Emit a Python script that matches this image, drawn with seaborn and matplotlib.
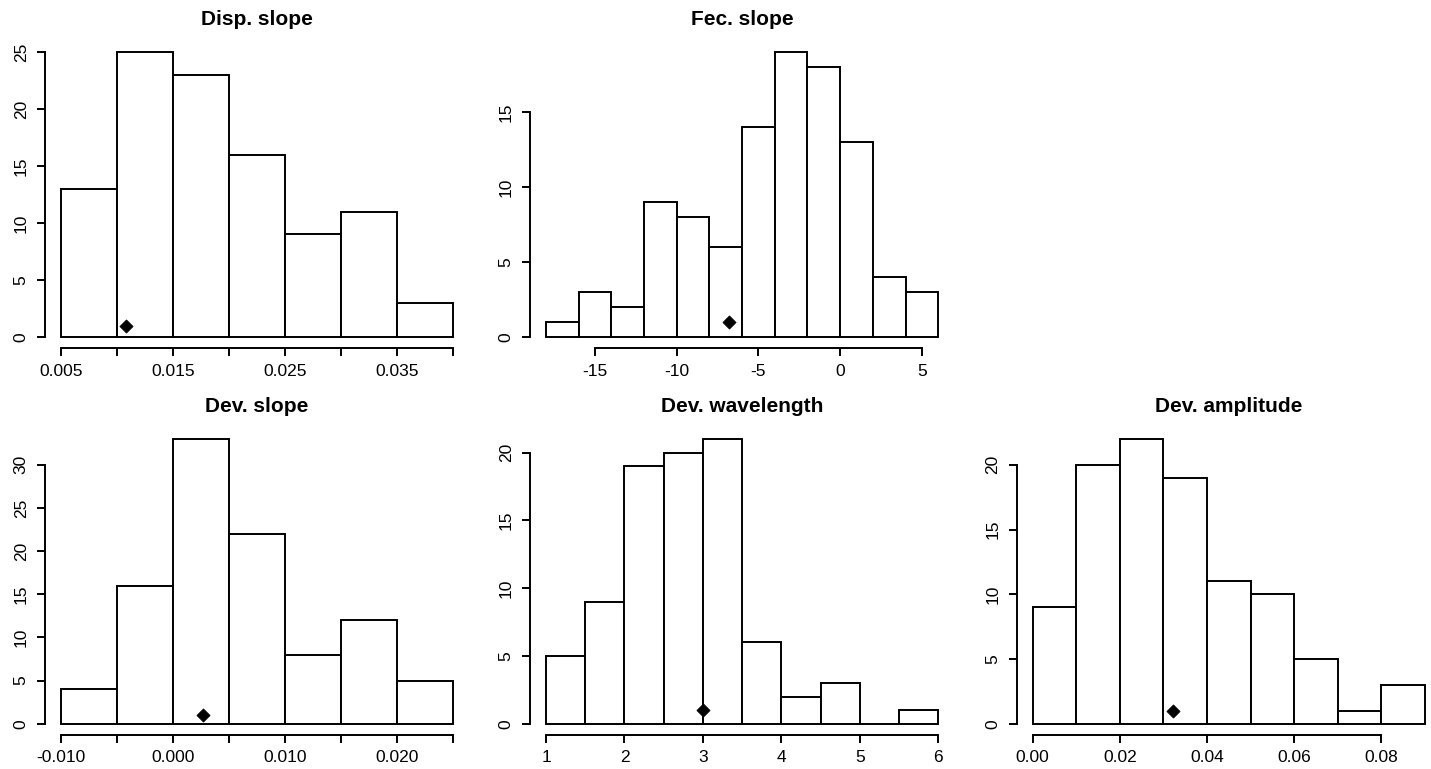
import numpy as np
import pandas as pd
import seaborn as sns
import matplotlib
matplotlib.use("Agg")
import matplotlib.pyplot as plt

sns.set_theme(style="white")
plt.rcParams["font.family"] = ["Liberation Sans", "DejaVu Sans"]

disp_edges = [0.005, 0.010, 0.015, 0.020, 0.025, 0.030, 0.035, 0.040]
disp_counts = [13, 25, 23, 16, 9, 11, 3]
disp_obs = 0.0108
disp_xticks = [0.005, 0.010, 0.015, 0.020, 0.025, 0.030, 0.035, 0.040]
disp_xlabels = ["0.005", "", "0.015", "", "0.025", "", "0.035", ""]
disp_yticks = [0, 5, 10, 15, 20, 25]

fec_edges = [-18, -16, -14, -12, -10, -8, -6, -4, -2, 0, 2, 4, 6]
fec_counts = [1, 3, 2, 9, 8, 6, 14, 19, 18, 13, 4, 3]
fec_obs = -6.8
fec_xticks = [-15, -10, -5, 0, 5]
fec_xlabels = ["-15", "-10", "-5", "0", "5"]
fec_yticks = [0, 5, 10, 15]

devs_edges = [-0.010, -0.005, 0.000, 0.005, 0.010, 0.015, 0.020, 0.025]
devs_counts = [4, 16, 33, 22, 8, 12, 5]
devs_obs = 0.0027
devs_xticks = [-0.010, -0.005, 0.000, 0.005, 0.010, 0.015, 0.020, 0.025]
devs_xlabels = ["-0.010", "", "0.000", "", "0.010", "", "0.020", ""]
devs_yticks = [0, 5, 10, 15, 20, 25, 30]

wave_edges = [1.0, 1.5, 2.0, 2.5, 3.0, 3.5, 4.0, 4.5, 5.0, 5.5, 6.0]
wave_counts = [5, 9, 19, 20, 21, 6, 2, 3, 0, 1]
wave_obs = 3.0
wave_xticks = [1, 2, 3, 4, 5, 6]
wave_xlabels = ["1", "2", "3", "4", "5", "6"]
wave_yticks = [0, 5, 10, 15, 20]

amp_edges = [0.00, 0.01, 0.02, 0.03, 0.04, 0.05, 0.06, 0.07, 0.08, 0.09]
amp_counts = [9, 20, 22, 19, 11, 10, 5, 1, 3]
amp_obs = 0.0323
amp_xticks = [0.00, 0.02, 0.04, 0.06, 0.08]
amp_xlabels = ["0.00", "0.02", "0.04", "0.06", "0.08"]
amp_yticks = [0, 5, 10, 15, 20]

obs_y = 1

LW = 1.4


def draw_panel(ax, title, edges, counts, obs, xticks, xlabels, yticks):
    mids = [(a + b) / 2 for a, b in zip(edges[:-1], edges[1:])]
    df = pd.DataFrame({"value": mids, "count": counts})
    sns.histplot(data=df, x="value", weights="count", bins=edges, ax=ax,
                 color="white", edgecolor="black", linewidth=LW, alpha=1)
    sns.scatterplot(x=[obs], y=[obs_y], marker="D", color="black",
                    edgecolor="black", s=45, ax=ax, zorder=3)

    xr = edges[-1] - edges[0]
    ymax = max(counts)
    ax.set_xlim(edges[0] - 0.04 * xr, edges[-1] + 0.04 * xr)
    ax.set_ylim(-0.04 * ymax, 1.04 * ymax)

    ax.set_xticks(xticks)
    ax.set_xticklabels(xlabels)
    ax.set_yticks(yticks)
    ax.set_yticklabels([str(v) for v in yticks])
    ax.set_xlabel("")
    ax.set_ylabel("")

    for side in ["top", "right"]:
        ax.spines[side].set_visible(False)
    ax.spines["bottom"].set_bounds(xticks[0], xticks[-1])
    ax.spines["left"].set_bounds(yticks[0], yticks[-1])
    for side in ["bottom", "left"]:
        ax.spines[side].set_linewidth(LW)
        ax.spines[side].set_color("black")

    ax.tick_params(axis="both", direction="out", length=6, width=LW,
                   color="black", labelcolor="black", labelsize=12.5,
                   bottom=True, left=True)
    ax.tick_params(axis="x", pad=5)
    ax.tick_params(axis="y", pad=6, labelrotation=90)
    for lbl in ax.get_yticklabels():
        lbl.set_va("center")

    ax.set_title(title, fontsize=15, fontweight="bold", pad=11, color="black")


fig = plt.figure(figsize=(14.31, 7.69), dpi=100)
W, H = 0.296, 0.400
cols = [0.0317, 0.3706, 0.7107]
rows = [0.547, 0.044]

panels = [
    (rows[0], cols[0], "Disp. slope", disp_edges, disp_counts, disp_obs, disp_xticks, disp_xlabels, disp_yticks),
    (rows[0], cols[1], "Fec. slope", fec_edges, fec_counts, fec_obs, fec_xticks, fec_xlabels, fec_yticks),
    (rows[1], cols[0], "Dev. slope", devs_edges, devs_counts, devs_obs, devs_xticks, devs_xlabels, devs_yticks),
    (rows[1], cols[1], "Dev. wavelength", wave_edges, wave_counts, wave_obs, wave_xticks, wave_xlabels, wave_yticks),
    (rows[1], cols[2], "Dev. amplitude", amp_edges, amp_counts, amp_obs, amp_xticks, amp_xlabels, amp_yticks),
]

for bottom, left, title, edges, counts, obs, xt, xl, yt in panels:
    ax = fig.add_axes([left, bottom, W, H])
    ax.set_facecolor("white")
    draw_panel(ax, title, edges, counts, obs, xt, xl, yt)

fig.savefig("out.png", dpi=100, facecolor="white")
